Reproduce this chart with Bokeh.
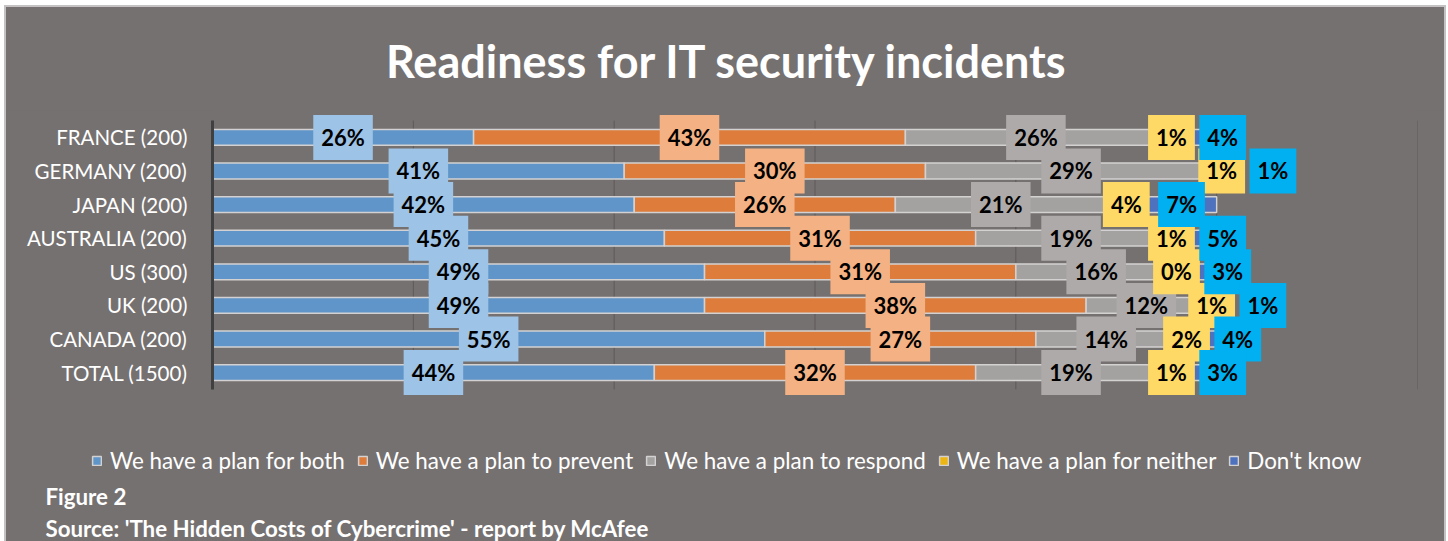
import numpy as np
from bokeh.plotting import figure
from bokeh.layouts import column
from bokeh.models import FactorRange, Legend, LegendItem, ColumnDataSource, Label
from bokeh.embed import file_html
from bokeh.resources import INLINE

# ---------------- data ----------------
categories = ["FRANCE (200)", "GERMANY (200)", "JAPAN (200)", "AUSTRALIA (200)",
              "US (300)", "UK (200)", "CANADA (200)", "TOTAL (1500)"]
series_names = ["We have a plan for both", "We have a plan to prevent",
                "We have a plan to respond", "We have a plan for neither", "Don't know"]
plan_both = [26, 41, 42, 45, 49, 49, 55, 44]
plan_prevent = [43, 30, 26, 31, 31, 38, 27, 32]
plan_respond = [26, 29, 21, 19, 16, 12, 14, 19]
plan_neither = [1, 1, 4, 1, 0, 1, 2, 1]
dont_know = [4, 1, 7, 5, 3, 1, 4, 3]
x_ticks = [0, 20, 40, 60, 80, 100, 120]
title_text = "Readiness for IT security incidents"
figure_text = "Figure 2"
source_text = "Source: 'The Hidden Costs of Cybercrime' - report by McAfee"

# ---------------- style ----------------
BG = "#767171"
FONT = "Lato"
W = 1438
TOP_H, MAIN_H, BOT_H = 103, 289, 142
bar_colors = ["#5F95C9", "#DD7C3B", "#A3A2A1", "#EDB511", "#4E72BD"]
label_bg = ["#9DC3E6", "#F4B183", "#AEAAAA", "#FFD966", "#00B0F0"]
bar_line = "#D3D1D1"
keys = ["both", "prevent", "respond", "neither", "dk"]
series = [plan_both, plan_prevent, plan_respond, plan_neither, dont_know]


def blank(h):
    f = figure(width=W, height=h, x_range=(0, W), y_range=(0, h), output_backend="svg",
               toolbar_location=None, min_border=0, background_fill_color=BG,
               border_fill_color=BG, outline_line_color=None, frame_align=False)
    f.axis.visible = False
    f.grid.visible = False
    return f


# ---------------- title strip ----------------
top = blank(TOP_H)
top.add_layout(Label(x=721, y=50, text=title_text, text_align="center", text_baseline="middle",
                     text_font=FONT, text_font_size="45px", text_font_style="bold",
                     text_color="white"))

# ---------------- main chart ----------------
src = ColumnDataSource(dict(cat=categories, **{k: v for k, v in zip(keys, series)}))
p = figure(y_range=FactorRange(factors=categories[::-1], range_padding=0.3,
                               range_padding_units="absolute"),
           x_range=(0, 120), width=W, height=MAIN_H, output_backend="svg", toolbar_location=None,
           min_border_left=206, min_border_right=27, min_border_top=0, min_border_bottom=0,
           background_fill_color=BG, border_fill_color=BG, outline_line_color=None,
           frame_align=False)

n = len(categories)
p.segment(x0=x_ticks, x1=x_ticks, y0=[0] * len(x_ticks), y1=[n] * len(x_ticks),
          line_color="#5E5A59", line_width=1)

renderers = p.hbar_stack(keys, y="cat", height=0.47, color=bar_colors,
                         line_color=bar_line, line_width=1.5, source=src)

# data labels: centred on segment, pushed right when they would overlap the previous one
box_w = {2: 4.6, 3: 5.8}
gap = 0.5
row_pos = {}
for ri in range(n):
    start = 0.0
    prev_right = -1e9
    for si, vals in enumerate(series):
        v = vals[ri]
        c = start + v / 2.0
        txt = f"{v}%"
        w = box_w[len(txt)]
        if c - w / 2 < prev_right + gap and si >= 3:
            c = prev_right + gap + w / 2
        prev_right = c + w / 2
        row_pos[(si, ri)] = (c, txt)
        start += v
lx, ly, lt, lb = [], [], [], []
for si in range(len(series)):
    for ri, cat in enumerate(categories):
        c, txt = row_pos[(si, ri)]
        lx.append(c); ly.append(cat); lt.append(txt); lb.append(label_bg[si])
lsrc = ColumnDataSource(dict(x=lx, y=ly, text=lt, bg=lb))
p.text(x="x", y="y", text="text", source=lsrc, text_align="center", text_baseline="middle",
       text_font_size="22px", text_font_style="bold", text_color="black",
       text_font={"value": FONT}, background_fill_color="bg", padding=(8, 9))

p.xaxis.visible = False
p.grid.visible = False
p.yaxis.bounds = (0, n)
p.yaxis.axis_line_color = "#404040"
p.yaxis.axis_line_width = 3
p.yaxis.major_tick_line_color = None
p.yaxis.minor_tick_line_color = None
p.yaxis.major_label_text_color = "white"
p.yaxis.major_label_text_font = FONT
p.yaxis.major_label_text_font_size = "20.5px"
p.yaxis.major_label_standoff = 19

# ---------------- legend + footer strip ----------------
bot = blank(BOT_H)
nan = np.array([np.nan])
swatches = [bot.hbar(y=nan, left=nan, right=nan, height=1, fill_color=c,
                     line_color=bar_line, line_width=1.5)
            for c in bar_colors]
legend = Legend(items=[LegendItem(label=nm, renderers=[r]) for nm, r in zip(series_names, swatches)],
                orientation="horizontal", location=(85, 67),
                background_fill_alpha=0, border_line_color=None,
                label_text_color="white", label_text_font=FONT, label_text_font_size="22.4px",
                glyph_width=11, glyph_height=11, label_standoff=8, spacing=12,
                padding=0, margin=0)
bot.add_layout(legend)
bot.add_layout(Label(x=39, y=45, text=figure_text, text_align="left", text_baseline="middle",
                     text_font=FONT, text_font_size="22.3px", text_font_style="bold",
                     text_color="white"))
bot.add_layout(Label(x=39, y=13, text=source_text, text_align="left", text_baseline="middle",
                     text_font=FONT, text_font_size="22.3px", text_font_style="bold",
                     text_color="white"))

layout = column(top, p, bot, spacing=0, margin=(7, 4, 0, 6))
layout.styles = {"outline": "2px solid #C4C2C2", "background-color": BG}

open("out.html", "w").write(file_html(layout, INLINE))
